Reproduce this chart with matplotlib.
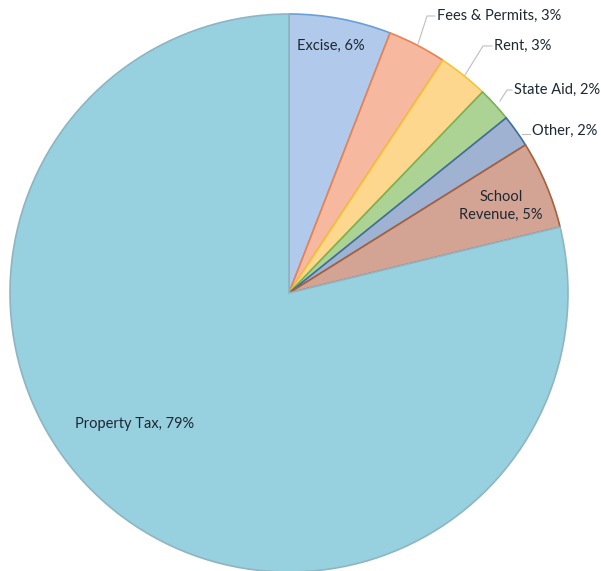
import matplotlib.pyplot as plt

# Revenue shares (%)
sources = ["Excise", "Fees & Permits", "Rent", "State Aid", "Other",
           "School\nRevenue", "Property Tax"]
shares = [5.9, 3.4, 2.9, 2.0, 1.9, 5.1, 78.8]

fills = ["#b1c9ea", "#f6b9a0", "#fdd78d", "#acd393", "#9fb2d2", "#d3a394", "#97d0df"]
edges = ["#6a9fd6", "#ec8150", "#f2c436", "#78b157", "#3f6e9e", "#a9603a", "#8fb5c2"]

plt.rcParams["font.family"] = ["Lato", "DejaVu Sans"]

fig = plt.figure(figsize=(6.01, 5.71), dpi=100)
ax = fig.add_axes([0, 0, 1, 1])

R = 279.0
CX, CY = 289.0, 293.0


def px(x, y):
    # pixel position (from top-left) -> data coords of the unit pie
    return ((x - CX) / R, (CY - y) / R)


wedges, _ = ax.pie(shares, startangle=90, counterclock=False, radius=1.0,
                   colors=fills, wedgeprops=dict(linewidth=1.2))
for w, ec in zip(wedges, edges):
    w.set_edgecolor(ec)

labels = [f"{s}, {v:.0f}%" for s, v in zip(sources, shares)]
txt = dict(fontsize=10.5, color="#1e2831")

# labels inside the slices
ax.text(*px(331, 46), labels[0], ha="center", va="center", **txt)
ax.text(*px(501, 206), labels[5], ha="center", va="center",
        linespacing=1.3, **txt)
ax.text(*px(135, 424), labels[6], ha="center", va="center", **txt)

# outside labels with leader lines
outside = [
    (1, [(418, 44), (427, 16), (435, 16)], (437, 16)),
    (2, [(465, 75), (483, 46), (492, 46)], (494, 46)),
    (3, [(500, 101), (507, 90), (512, 90)], (514, 90)),
    (4, [(522, 134), (530, 134)], (532, 131)),
]
for i, path, tpos in outside:
    xs, ys = zip(*[px(*p) for p in path])
    ax.plot(xs, ys, color="#bfbfbf", lw=0.8)
    ax.text(*px(*tpos), labels[i], ha="left", va="center", **txt)

ax.set_xlim(-CX / R, (601 - CX) / R)
ax.set_ylim((CY - 571) / R, CY / R)
ax.set_aspect("auto")
ax.axis("off")

fig.savefig("out.png", dpi=100)
